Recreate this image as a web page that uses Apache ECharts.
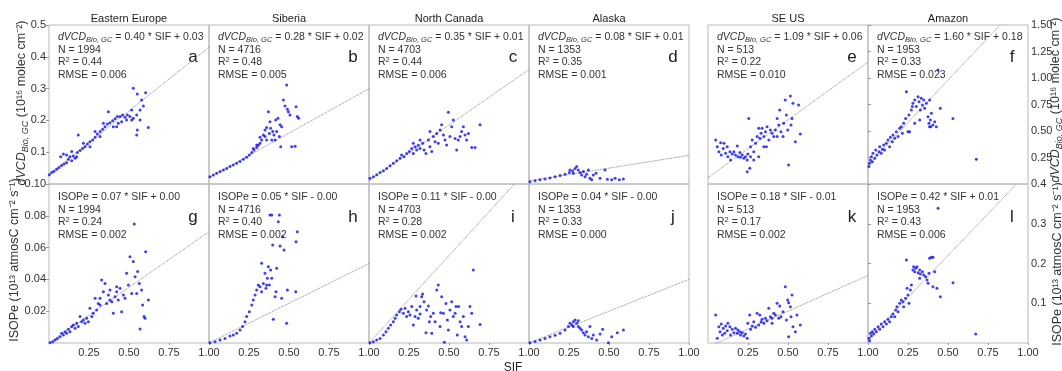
<!DOCTYPE html>
<html>
<head>
<meta charset="utf-8">
<script src="https://cdn.jsdelivr.net/npm/echarts@6/dist/echarts.min.js"></script>
<style>
html, body { margin: 0; padding: 0; background: #fff; }
#chart { width: 1062px; height: 371px; }
</style>
</head>
<body>
<div id="chart"></div>
<script>
// panel texts
const regions = ['Eastern Europe', 'Siberia', 'North Canada', 'Alaska', 'SE US', 'Amazon']
const lettersTop = ['a', 'b', 'c', 'd', 'e', 'f']
const lettersBottom = ['g', 'h', 'i', 'j', 'k', 'l']
const nValues = ['1994', '4716', '4703', '1353', '513', '1953']

const eqTop = ['0.40 * SIF + 0.03', '0.28 * SIF + 0.02', '0.35 * SIF + 0.01', '0.08 * SIF + 0.01', '1.09 * SIF + 0.06', '1.60 * SIF + 0.18']
const slopeTop = [0.40, 0.28, 0.35, 0.08, 1.09, 1.60]
const interceptTop = [0.03, 0.02, 0.01, 0.01, 0.06, 0.18]
const r2Top = ['0.44', '0.48', '0.44', '0.35', '0.22', '0.33']
const rmseTop = ['0.006', '0.005', '0.006', '0.001', '0.010', '0.023']

const eqBottom = ['0.07 * SIF + 0.00', '0.05 * SIF - 0.00', '0.11 * SIF - 0.00', '0.04 * SIF - 0.00', '0.18 * SIF - 0.01', '0.42 * SIF + 0.01']
const slopeBottom = [0.07, 0.05, 0.11, 0.04, 0.18, 0.42]
const interceptBottom = [0.00, 0.00, 0.00, 0.00, -0.01, 0.01]
const r2Bottom = ['0.24', '0.40', '0.28', '0.33', '0.17', '0.43']
const rmseBottom = ['0.002', '0.002', '0.002', '0.000', '0.002', '0.006']

// axis ranges: [max, interval, decimals]
const yTopLeft = [0.5, 0.1, 1]
const yTopRight = [1.5, 0.25, 2]
const yBottomLeft = [0.1, 0.02, 2]
const yBottomRight = [0.4, 0.1, 1]
const xTicks = [0, 1, 0.25]

// dVCD vs SIF
const vcdEasternEurope = [[0.002,0.029],[0.017,0.036],[0.031,0.040],[0.048,0.046],[0.063,0.052],[0.079,0.058],[0.094,0.063],[0.110,0.067],[0.073,0.086],[0.090,0.094],[0.110,0.091],[0.131,0.086],[0.152,0.088],[0.121,0.078],[0.142,0.073],[0.163,0.081],[0.177,0.099],[0.194,0.105],[0.210,0.112],[0.225,0.117],[0.240,0.126],[0.256,0.133],[0.183,0.154],[0.273,0.138],[0.288,0.147],[0.302,0.157],[0.319,0.165],[0.335,0.172],[0.350,0.180],[0.365,0.189],[0.381,0.193],[0.398,0.199],[0.413,0.205],[0.427,0.212],[0.444,0.212],[0.460,0.217],[0.475,0.210],[0.490,0.217],[0.506,0.212],[0.371,0.227],[0.340,0.191],[0.319,0.149],[0.402,0.180],[0.433,0.191],[0.454,0.196],[0.517,0.233],[0.527,0.301],[0.552,0.283],[0.579,0.264],[0.590,0.245],[0.604,0.287],[0.569,0.233],[0.548,0.217],[0.527,0.207],[0.548,0.154],[0.552,0.170],[0.621,0.178],[0.569,0.201],[0.517,0.201],[0.485,0.201],[0.423,0.180],[0.288,0.165],[0.256,0.117],[0.215,0.128],[0.142,0.102],[0.173,0.086]]
const vcdSiberia = [[0.006,0.023],[0.027,0.028],[0.048,0.034],[0.069,0.039],[0.090,0.044],[0.110,0.049],[0.131,0.055],[0.152,0.060],[0.173,0.065],[0.194,0.071],[0.215,0.078],[0.235,0.084],[0.252,0.091],[0.267,0.099],[0.281,0.107],[0.298,0.115],[0.308,0.122],[0.319,0.128],[0.329,0.138],[0.319,0.147],[0.340,0.154],[0.350,0.170],[0.360,0.178],[0.371,0.227],[0.381,0.196],[0.385,0.175],[0.398,0.165],[0.406,0.154],[0.392,0.138],[0.417,0.201],[0.431,0.207],[0.444,0.186],[0.454,0.180],[0.423,0.165],[0.448,0.117],[0.465,0.264],[0.475,0.245],[0.485,0.311],[0.490,0.235],[0.496,0.227],[0.506,0.217],[0.517,0.117],[0.538,0.119],[0.544,0.243],[0.552,0.212],[0.560,0.207],[0.360,0.138],[0.350,0.149],[0.413,0.138],[0.377,0.159],[0.440,0.149],[0.298,0.123],[0.277,0.112]]
const vcdNorthCanada = [[0.006,0.018],[0.027,0.023],[0.048,0.029],[0.069,0.036],[0.090,0.042],[0.110,0.049],[0.131,0.057],[0.152,0.065],[0.173,0.073],[0.194,0.081],[0.204,0.091],[0.219,0.086],[0.235,0.096],[0.252,0.102],[0.267,0.112],[0.277,0.096],[0.288,0.117],[0.298,0.107],[0.308,0.122],[0.319,0.112],[0.335,0.128],[0.344,0.107],[0.356,0.096],[0.371,0.138],[0.381,0.117],[0.392,0.102],[0.402,0.149],[0.413,0.133],[0.423,0.159],[0.433,0.128],[0.444,0.170],[0.454,0.186],[0.465,0.154],[0.475,0.138],[0.485,0.123],[0.496,0.226],[0.506,0.149],[0.517,0.180],[0.527,0.201],[0.538,0.143],[0.548,0.107],[0.558,0.138],[0.569,0.149],[0.579,0.165],[0.590,0.180],[0.600,0.154],[0.610,0.138],[0.621,0.159],[0.642,0.115],[0.663,0.115],[0.694,0.186],[0.381,0.165],[0.319,0.138],[0.277,0.128]]
const vcdAlaska = [[0.006,0.007],[0.038,0.010],[0.069,0.013],[0.100,0.016],[0.131,0.019],[0.163,0.023],[0.194,0.027],[0.225,0.031],[0.252,0.036],[0.273,0.042],[0.288,0.049],[0.298,0.055],[0.308,0.044],[0.319,0.036],[0.329,0.028],[0.340,0.039],[0.350,0.023],[0.360,0.031],[0.371,0.044],[0.381,0.018],[0.392,0.013],[0.402,0.028],[0.419,0.034],[0.444,0.018],[0.475,0.044],[0.490,0.015],[0.517,0.013],[0.538,0.018],[0.565,0.013],[0.590,0.016],[0.277,0.034],[0.256,0.044]]
const vcdSeUs = [[0.048,0.415],[0.058,0.352],[0.068,0.305],[0.079,0.390],[0.083,0.274],[0.095,0.336],[0.100,0.384],[0.110,0.289],[0.120,0.352],[0.124,0.258],[0.137,0.305],[0.141,0.226],[0.151,0.283],[0.162,0.305],[0.172,0.274],[0.183,0.358],[0.187,0.258],[0.199,0.296],[0.203,0.252],[0.214,0.274],[0.224,0.242],[0.234,0.258],[0.245,0.226],[0.249,0.283],[0.261,0.148],[0.245,0.116],[0.255,0.619],[0.266,0.352],[0.276,0.415],[0.286,0.305],[0.297,0.384],[0.307,0.447],[0.317,0.525],[0.324,0.431],[0.332,0.478],[0.338,0.525],[0.349,0.447],[0.359,0.494],[0.365,0.352],[0.369,0.541],[0.380,0.415],[0.390,0.509],[0.400,0.478],[0.411,0.447],[0.421,0.509],[0.432,0.619],[0.442,0.557],[0.448,0.698],[0.456,0.494],[0.469,0.447],[0.473,0.572],[0.483,0.792],[0.490,0.651],[0.498,0.509],[0.504,0.179],[0.515,0.830],[0.519,0.557],[0.525,0.619],[0.531,0.761],[0.546,0.399],[0.566,0.745],[0.577,0.472],[0.432,0.447],[0.349,0.352],[0.317,0.258],[0.286,0.226],[0.266,0.258]]
const vcdAmazon = [[0.006,0.164],[0.010,0.195],[0.015,0.226],[0.021,0.258],[0.027,0.211],[0.031,0.289],[0.042,0.242],[0.048,0.321],[0.056,0.274],[0.069,0.305],[0.073,0.352],[0.083,0.289],[0.090,0.327],[0.098,0.368],[0.104,0.321],[0.115,0.384],[0.125,0.415],[0.135,0.352],[0.140,0.440],[0.152,0.399],[0.156,0.462],[0.167,0.431],[0.177,0.494],[0.188,0.447],[0.198,0.525],[0.208,0.541],[0.215,0.478],[0.223,0.572],[0.235,0.619],[0.240,0.871],[0.250,0.494],[0.256,0.651],[0.260,0.494],[0.271,0.698],[0.277,0.730],[0.281,0.761],[0.292,0.792],[0.302,0.730],[0.313,0.824],[0.319,0.777],[0.327,0.698],[0.333,0.808],[0.340,0.745],[0.348,0.792],[0.354,0.714],[0.365,0.761],[0.375,0.635],[0.381,0.572],[0.385,0.541],[0.390,0.604],[0.396,0.667],[0.406,0.557],[0.417,0.588],[0.427,0.541],[0.438,1.075],[0.452,0.714],[0.531,0.619],[0.677,0.233],[0.292,0.572],[0.323,0.604],[0.385,0.792],[0.392,0.541]]

// ISOPe vs SIF
const isopEasternEurope = [[0.006,0.0002],[0.023,0.0008],[0.038,0.0019],[0.052,0.0029],[0.069,0.0040],[0.079,0.0061],[0.090,0.0050],[0.100,0.0071],[0.110,0.0061],[0.121,0.0086],[0.131,0.0071],[0.142,0.0103],[0.152,0.0113],[0.163,0.0092],[0.173,0.0124],[0.183,0.0103],[0.194,0.0166],[0.204,0.0134],[0.215,0.0145],[0.225,0.0124],[0.235,0.0155],[0.246,0.0134],[0.256,0.0218],[0.267,0.0166],[0.277,0.0187],[0.288,0.0281],[0.298,0.0208],[0.308,0.0249],[0.319,0.0281],[0.329,0.0396],[0.340,0.0323],[0.350,0.0375],[0.360,0.0249],[0.371,0.0302],[0.381,0.0333],[0.392,0.0260],[0.402,0.0187],[0.413,0.0291],[0.423,0.0323],[0.433,0.0270],[0.444,0.0344],[0.454,0.0197],[0.465,0.0302],[0.475,0.0281],[0.485,0.0438],[0.496,0.0365],[0.506,0.0543],[0.517,0.0312],[0.527,0.0512],[0.533,0.0748],[0.538,0.0417],[0.548,0.0312],[0.554,0.0449],[0.565,0.0375],[0.569,0.0088],[0.579,0.0333],[0.585,0.0239],[0.594,0.0166],[0.600,0.0155],[0.604,0.0574],[0.621,0.0270],[0.381,0.0270],[0.423,0.0354],[0.319,0.0239]]
const isopSiberia = [[0.006,0.0002],[0.038,0.0008],[0.069,0.0019],[0.100,0.0029],[0.131,0.0044],[0.152,0.0050],[0.173,0.0061],[0.194,0.0082],[0.210,0.0103],[0.225,0.0134],[0.235,0.0166],[0.252,0.0197],[0.267,0.0239],[0.277,0.0270],[0.288,0.0302],[0.298,0.0333],[0.308,0.0365],[0.319,0.0354],[0.329,0.0501],[0.340,0.0375],[0.350,0.0438],[0.356,0.0344],[0.365,0.0407],[0.371,0.0480],[0.377,0.0365],[0.385,0.0459],[0.392,0.0805],[0.398,0.0616],[0.402,0.0149],[0.413,0.0291],[0.419,0.0323],[0.423,0.0470],[0.433,0.0763],[0.440,0.0805],[0.444,0.0610],[0.454,0.0281],[0.460,0.0669],[0.469,0.0585],[0.485,0.0124],[0.490,0.0333],[0.542,0.0323],[0.544,0.0637],[0.552,0.0700],[0.381,0.0805],[0.360,0.0365],[0.329,0.0323],[0.392,0.0407]]
const isopNorthCanada = [[0.006,0.0002],[0.027,0.0008],[0.048,0.0019],[0.069,0.0029],[0.090,0.0050],[0.106,0.0071],[0.121,0.0092],[0.135,0.0113],[0.152,0.0134],[0.163,0.0155],[0.173,0.0176],[0.190,0.0197],[0.200,0.0212],[0.215,0.0187],[0.225,0.0218],[0.235,0.0166],[0.246,0.0197],[0.256,0.0176],[0.267,0.0229],[0.277,0.0113],[0.288,0.0166],[0.298,0.0208],[0.308,0.0155],[0.319,0.0229],[0.329,0.0291],[0.335,0.0308],[0.344,0.0260],[0.356,0.0065],[0.360,0.0208],[0.371,0.0233],[0.377,0.0134],[0.385,0.0166],[0.392,0.0061],[0.402,0.0187],[0.413,0.0134],[0.423,0.0333],[0.433,0.0365],[0.444,0.0103],[0.448,0.0191],[0.454,0.0291],[0.465,0.0187],[0.471,0.0004],[0.481,0.0249],[0.490,0.0145],[0.496,0.0082],[0.506,0.0208],[0.517,0.0260],[0.527,0.0166],[0.538,0.0187],[0.544,0.0229],[0.552,0.0050],[0.560,0.0229],[0.569,0.0134],[0.579,0.0103],[0.590,0.0166],[0.600,0.0040],[0.610,0.0019],[0.621,0.0103],[0.631,0.0229],[0.642,0.0187],[0.652,0.0459],[0.694,0.0117],[0.319,0.0183],[0.294,0.0296]]
const isopAlaska = [[0.006,0.0002],[0.038,0.0010],[0.069,0.0019],[0.100,0.0029],[0.131,0.0040],[0.163,0.0048],[0.194,0.0061],[0.225,0.0082],[0.246,0.0103],[0.256,0.0124],[0.267,0.0113],[0.277,0.0134],[0.288,0.0145],[0.298,0.0124],[0.308,0.0140],[0.319,0.0092],[0.329,0.0082],[0.340,0.0065],[0.350,0.0050],[0.360,0.0071],[0.371,0.0040],[0.381,0.0103],[0.392,0.0029],[0.402,0.0050],[0.423,0.0019],[0.444,0.0057],[0.460,0.0086],[0.496,0.0002],[0.517,0.0040],[0.552,0.0065],[0.590,0.0082],[0.308,0.0103],[0.277,0.0103]]
const isopSeUs = [[0.048,0.0704],[0.058,0.0117],[0.068,0.0411],[0.075,0.0285],[0.083,0.0478],[0.089,0.0201],[0.095,0.0369],[0.104,0.0243],[0.110,0.0428],[0.120,0.0310],[0.124,0.0495],[0.137,0.0411],[0.141,0.0201],[0.151,0.0344],[0.162,0.0260],[0.172,0.0369],[0.183,0.0243],[0.187,0.0327],[0.199,0.0285],[0.203,0.0201],[0.214,0.0260],[0.224,0.0176],[0.234,0.0226],[0.245,0.0117],[0.249,0.0495],[0.261,0.0704],[0.266,0.0344],[0.276,0.0428],[0.286,0.0537],[0.297,0.0394],[0.307,0.0746],[0.317,0.0453],[0.324,0.0704],[0.332,0.0537],[0.338,0.0595],[0.349,0.0495],[0.359,0.0621],[0.369,0.0562],[0.380,0.0872],[0.390,0.0662],[0.400,0.0621],[0.411,0.0746],[0.421,0.0704],[0.432,0.0998],[0.442,0.0621],[0.448,0.0931],[0.456,0.0662],[0.469,0.0788],[0.483,0.1417],[0.490,0.0579],[0.498,0.1082],[0.504,0.0159],[0.515,0.0914],[0.519,0.0662],[0.525,0.1208],[0.531,0.0411],[0.546,0.0285],[0.556,0.0704],[0.577,0.0453],[0.504,0.1015],[0.400,0.0495]]
const isopAmazon = [[0.006,0.0117],[0.010,0.0059],[0.015,0.0243],[0.021,0.0176],[0.027,0.0285],[0.035,0.0226],[0.042,0.0344],[0.052,0.0285],[0.063,0.0411],[0.073,0.0344],[0.083,0.0478],[0.094,0.0411],[0.104,0.0537],[0.115,0.0478],[0.125,0.0595],[0.135,0.0537],[0.146,0.0662],[0.156,0.0730],[0.167,0.0662],[0.173,0.0830],[0.181,0.0914],[0.188,0.0788],[0.198,0.0998],[0.208,0.1082],[0.219,0.1040],[0.223,0.0914],[0.235,0.1124],[0.240,0.2088],[0.244,0.1375],[0.250,0.1208],[0.256,0.0998],[0.265,0.1333],[0.271,0.1459],[0.281,0.1836],[0.285,0.1920],[0.292,0.1795],[0.298,0.1878],[0.306,0.1920],[0.313,0.1769],[0.323,0.1836],[0.327,0.1736],[0.340,0.1795],[0.348,0.1711],[0.360,0.1669],[0.369,0.1585],[0.381,0.1753],[0.385,0.2130],[0.396,0.2155],[0.406,0.2155],[0.417,0.1795],[0.406,0.1417],[0.431,0.1375],[0.438,0.3388],[0.452,0.1166],[0.531,0.1518],[0.673,0.0226],[0.375,0.1501],[0.323,0.1627]]

const topData = [vcdEasternEurope, vcdSiberia, vcdNorthCanada, vcdAlaska, vcdSeUs, vcdAmazon]
const bottomData = [isopEasternEurope, isopSiberia, isopNorthCanada, isopAlaska, isopSeUs, isopAmazon]

const FONT = '"Liberation Sans", Arial, sans-serif'
const lefts = [49, 209, 369, 529, 708, 868]
const panelW = 160
const rowTops = [25, 184]
const panelH = 159

const grids = [], xAxes = [], yAxes = [], series = [], graphics = []

function yAxisFor(range, side, showLabels) {
  return {
    type: 'value',
    min: 0,
    max: range[0],
    interval: range[1],
    position: side,
    axisLine: { show: false },
    axisTick: { show: showLabels, length: 3, lineStyle: { color: '#999' } },
    axisLabel: {
      show: showLabels,
      showMinLabel: false,
      showMaxLabel: true,
      margin: 3,
      fontSize: 11,
      color: '#333',
      fontFamily: FONT,
      formatter: v => v.toFixed(range[2])
    },
    splitLine: { show: false }
  }
}

function richTextStyles(size) {
  return {
    i: { fontStyle: 'italic', fontSize: size, fontFamily: FONT, lineHeight: size + 3, fill: '#333' },
    s: { fontStyle: 'italic', fontSize: size * 0.72, fontFamily: FONT, lineHeight: size * 0.72, verticalAlign: 'bottom', fill: '#333' },
    n: { fontSize: size, fontFamily: FONT, lineHeight: size + 3, fill: '#333' },
    p: { fontSize: size * 0.72, fontFamily: FONT, lineHeight: size * 0.72, verticalAlign: 'top', fill: '#333' }
  }
}

function addText(x, y, text, size, opts) {
  graphics.push(Object.assign({
    type: 'text',
    x: x,
    y: y,
    silent: true,
    style: {
      text: text,
      fontSize: size,
      fontFamily: FONT,
      fill: '#333',
      align: 'left',
      verticalAlign: 'middle',
      rich: richTextStyles(size)
    }
  }, opts || {}))
}

for (let row = 0; row < 2; row++) {
  for (let col = 0; col < 6; col++) {
    const idx = row * 6 + col
    const isTop = row === 0
    const left = lefts[col]
    const top = rowTops[row]
    grids.push({
      left: left, top: top, width: panelW, height: panelH,
      show: true, borderColor: '#b8b8b8', borderWidth: 1,
      outerBoundsMode: 'none', containLabel: false
    })
    xAxes.push({
      type: 'value',
      gridIndex: idx,
      min: xTicks[0], max: xTicks[1], interval: xTicks[2],
      axisLine: { show: false },
      axisTick: { show: !isTop, length: 2, lineStyle: { color: '#999' } },
      axisLabel: {
        show: !isTop,
        showMinLabel: false,
        showMaxLabel: true,
        margin: 4,
        fontSize: 11,
        color: '#333',
        fontFamily: FONT,
        formatter: v => v.toFixed(2)
      },
      splitLine: { show: false }
    })
    const rightGroup = col >= 4
    const range = isTop ? (rightGroup ? yTopRight : yTopLeft) : (rightGroup ? yBottomRight : yBottomLeft)
    const side = col === 5 ? 'right' : 'left'
    const showY = col === 0 || col === 5
    yAxes.push(Object.assign(yAxisFor(range, side, showY), { gridIndex: idx }))

    const m = isTop ? slopeTop[col] : slopeBottom[col]
    const b = isTop ? interceptTop[col] : interceptBottom[col]
    series.push({
      type: 'line',
      xAxisIndex: idx, yAxisIndex: idx,
      data: [[0, b], [1, m + b]],
      showSymbol: false,
      clip: true,
      silent: true,
      lineStyle: { color: '#666', width: 0.8, type: 'dotted' },
      z: 1
    })
    series.push({
      type: 'scatter',
      xAxisIndex: idx, yAxisIndex: idx,
      data: isTop ? topData[col] : bottomData[col],
      symbol: 'circle',
      symbolSize: 3,
      silent: true,
      itemStyle: { color: '#1010f0' },
      z: 2
    })

    // annotation block
    const tx = left + 9
    const ty = isTop ? 37 : 197
    const eq = isTop
      ? '{i|dVCD}{s|Bio, GC}{n| = ' + eqTop[col] + '}'
      : '{n|ISOPe = ' + eqBottom[col] + '}'
    addText(tx, ty, eq, 10.5)
    addText(tx, ty + 12.7, '{n|N = ' + nValues[col] + '}', 10.5)
    addText(tx, ty + 25.4, '{n|R}{p|2}{n| = ' + (isTop ? r2Top[col] : r2Bottom[col]) + '}', 10.5)
    addText(tx, ty + 38.1, '{n|RMSE = ' + (isTop ? rmseTop[col] : rmseBottom[col]) + '}', 10.5)
    graphics.push({
      type: 'text', x: left + panelW - 16, y: isTop ? 57 : 217, silent: true,
      style: {
        text: isTop ? lettersTop[col] : lettersBottom[col],
        fontSize: 17, fontFamily: FONT, fill: '#222', align: 'center', verticalAlign: 'middle'
      }
    })
  }
}

// region titles
regions.forEach((name, col) => {
  graphics.push({
    type: 'text', x: lefts[col] + panelW / 2, y: 19, silent: true,
    style: { text: name, fontSize: 11, fontFamily: FONT, fill: '#222', align: 'center', verticalAlign: 'middle' }
  })
})

// axis titles
const vcdTitle = '{i|dVCD}{s|Bio, GC}{n| (10¹⁶ molec cm⁻²)}'
const isopTitle = '{n|ISOPe (10¹³ atmosC cm⁻² s⁻¹)}'
addText(22, 103, vcdTitle, 12.5, { rotation: Math.PI / 2 })
addText(15, 260, isopTitle, 12.5, { rotation: Math.PI / 2 })
addText(1056, 100, vcdTitle, 12.5, { rotation: Math.PI / 2 })
addText(1058, 264, isopTitle, 12.5, { rotation: Math.PI / 2 })
graphics.forEach(g => {
  if (g.rotation) g.style.align = 'center'
})
graphics.push({
  type: 'text', x: 513, y: 368, silent: true,
  style: { text: 'SIF', fontSize: 12, fontFamily: FONT, fill: '#222', align: 'center', verticalAlign: 'middle' }
})

const chart = echarts.init(document.getElementById('chart'))
chart.setOption({
  animation: false,
  backgroundColor: '#fff',
  grid: grids,
  xAxis: xAxes,
  yAxis: yAxes,
  series: series,
  graphic: graphics
})
</script>
</body>
</html>
